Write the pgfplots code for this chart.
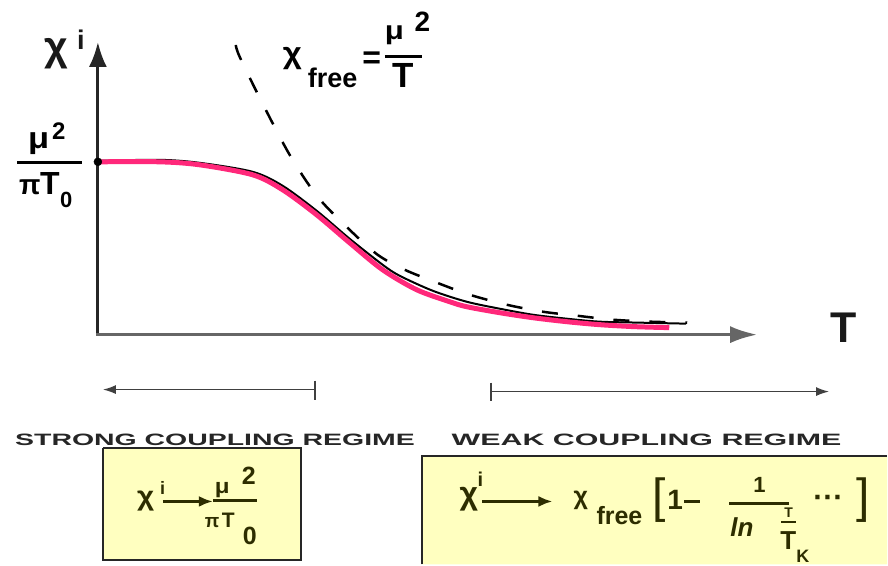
\documentclass[border=0pt]{standalone}
\usepackage{pgfplots}
\pgfplotsset{compat=1.18}
\usetikzlibrary{arrows.meta}
\usepackage{fontspec}
\setmainfont{Liberation Sans}
\definecolor{pinkc}{RGB}{255,40,122}
\definecolor{boxy}{RGB}{255,255,192}
\definecolor{boxt}{RGB}{45,45,0}
\newcommand{\fs}[1]{\fontsize{#1}{#1}\selectfont}
\begin{document}
\begin{tikzpicture}[t/.style={anchor=base west,inner sep=0pt,font=\bfseries}]
\begin{axis}[x=1pt,y=1pt,xmin=0,xmax=888,ymin=0,ymax=565,y dir=reverse,
  hide axis,clip=false,scale only axis]
\addplot[draw=none,forget plot] coordinates {(0,0)(888,565)};
% axes
\addplot[black!85, line width=3pt, -{Latex[length=25pt,width=18pt]}] coordinates {(98,336)(98,42)};
\addplot[black!60, line width=3pt, -{Latex[length=27pt,width=17pt]}] coordinates {(96,335)(758,335)};
% free susceptibility (dashed)
\addplot[black, line width=2.5pt, dash pattern=on 16pt off 20pt, smooth] coordinates {
(236,45)(240,57)(262,102)(290,155)(318,197)(350,230)(378,255)(405,270)(440,284)(470,295)(507,305)(543,312)(577,316)(613,320)(650,322)(688,323)};
% exact curve (black)
\addplot[black, line width=2pt, smooth] coordinates {
(98,161)(160,160)(200,163)(253,172)(283,186)(317,211)(350,239)(383,265)(400,276)(433,291)(467,302)(500,309)(533,315)(567,319)(600,322)(640,323)(687,324)};
% pink curve
\addplot[pinkc, line width=5pt, smooth] coordinates {
(98,162)(160,162)(200,165)(253,175)(283,190)(317,215)(350,243)(383,270)(417,290)(450,302)(467,307)(500,313)(533,318)(567,322)(600,325)(635,327)(670,328)};
\addplot[only marks, mark=*, mark size=4pt, black] coordinates {(98,162)};
% regime arrows
\addplot[black!75, line width=1.5pt, -{Latex[length=13pt,width=9pt]}] coordinates {(315,390)(103,390)};
\addplot[black!75, line width=2pt] coordinates {(315,381)(315,400)};
\addplot[black!75, line width=1.5pt, -{Latex[length=13pt,width=9pt]}] coordinates {(492,392)(830,392)};
\addplot[black!75, line width=2pt] coordinates {(492,383)(492,401)};
% boxes
\addplot[fill=boxy, draw=black!85, line width=2pt, line join=miter] coordinates {(103,448)(301,448)(301,561)(103,561)(103,448)};
\addplot[fill=boxy, draw=none] coordinates {(422,457)(888,457)(888,565)(422,565)(422,457)};
\addplot[black!85, line width=2pt, line join=miter] coordinates {(422,565)(422,457)(888,457)};
% formula arrows
\addplot[boxt, line width=2.5pt, -{Latex[length=14pt,width=11pt]}] coordinates {(163,502)(213,502)};
\addplot[boxt, line width=2.5pt, -{Latex[length=14pt,width=11pt]}] coordinates {(483,502)(553,502)};

% ---- texts ----
\node[t, black!90] at (44,61) {\fs{41}χ};
\node[t, black!90] at (77,50) {\fs{27}i};
\node[t, black!90] at (831,343) {\fs{43}T};
% left fraction
\node[t] at (28,149) {\fs{30}\scalebox{1.15}[1]{μ}};
\node[t] at (52,140) {\fs{24}2};
\node[anchor=west,inner sep=0pt] at (17,163) {\rule{65pt}{3pt}};
\node[t] at (19,195) {\fs{28}π};
\node[t] at (40,195) {\fs{32}T};
\node[t] at (60,208) {\fs{22}0};
% title chi_free
\node[t] at (283,64) {\fs{30}\scalebox{1.1}[1]{χ}};
\node[t] at (308,88) {\fs{27}free};
\node[anchor=center,inner sep=0pt,font=\bfseries] at (372,60) {\fs{32}=};
\node[t] at (385,40) {\fs{26}\scalebox{1.2}[1]{μ}};
\node[t] at (415,32) {\fs{28}2};
\node[anchor=west,inner sep=0pt] at (385,57) {\rule{37pt}{3pt}};
\node[t] at (393,88) {\fs{35}T};
% regime labels
\node[t, black!85] at (15,446) {\resizebox{400pt}{11.5pt}{STRONG COUPLING REGIME}};
\node[t, black!85] at (452,446) {\resizebox{390pt}{11.5pt}{WEAK COUPLING REGIME}};
% box 1
\node[t,boxt] at (137,506) {\fs{27}\scalebox{1.1}[1]{χ}};
\node[t,boxt] at (160,495) {\fs{18}i};
\node[t,boxt] at (215,494) {\fs{21}\scalebox{1.15}[1]{μ}};
\node[t,boxt] at (242,485) {\fs{25}2};
\node[anchor=west,inner sep=0pt,boxt] at (213,501) {\rule{44pt}{2.5pt}};
\node[t,boxt] at (205,528) {\fs{19}π};
\node[t,boxt] at (222,528) {\fs{21}T};
\node[t,boxt] at (243,545) {\fs{25}0};
% box 2
\node[t,boxt] at (460,505) {\fs{32}χ};
\node[t,boxt] at (478,487) {\fs{20}i};
\node[t,boxt] at (574,505) {\fs{25}χ};
\node[t,boxt] at (597,525) {\fs{25}free};
\node[anchor=base west,inner sep=0pt,boxt] at (653,513) {\fs{48}[};
\node[t,boxt] at (668,510) {\fs{28}1};
\node[anchor=west,inner sep=0pt,boxt] at (685,502) {\rule{16pt}{2.5pt}};
\node[t,boxt] at (754,493) {\fs{22}1};
\node[anchor=west,inner sep=0pt,boxt] at (730,504) {\rule{60pt}{2.5pt}};
\node[t,boxt] at (731,537) {\fs{26}\itshape ln};
\node[t,boxt] at (785,518) {\fs{14}T};
\node[anchor=west,inner sep=0pt,boxt] at (782,523) {\rule{15pt}{2pt}};
\node[t,boxt] at (781,550) {\fs{26}T};
\node[t,boxt] at (797,563) {\fs{18}K};
\node[anchor=west,inner sep=0pt,font=\bfseries,boxt] at (814,502) {\fs{30}···};
\node[anchor=base east,inner sep=0pt,boxt] at (871,513) {\fs{48}]};
\end{axis}
\end{tikzpicture}
\end{document}
